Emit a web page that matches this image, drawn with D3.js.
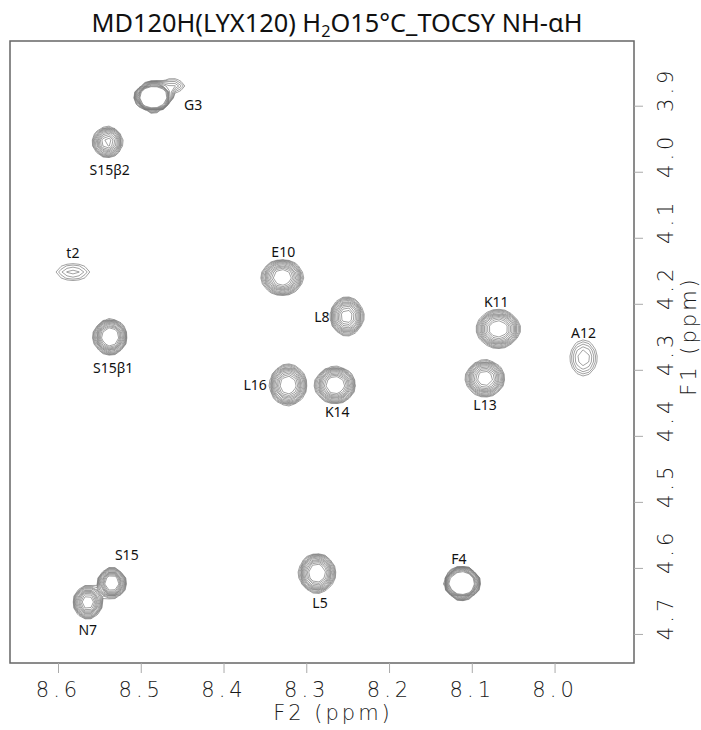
<!DOCTYPE html>
<html>
<head>
<meta charset="utf-8">
<script src="https://cdn.jsdelivr.net/npm/d3@7"></script>
<style>
  html, body { margin: 0; padding: 0; background: #fff; }
  svg { display: block; }
</style>
</head>
<body>
<svg id="chart" width="701" height="730"></svg>
<script>
// ---------------- DATA ----------------
const peakLabels  = ["G3", "", "S15β2", "t2", "E10", "L8", "K11", "A12", "S15β1", "L16", "K14", "L13", "S15", "N7", "L5", "F4"];
const peakF2      = [8.485, 8.462, 8.540, 8.582, 8.329, 8.251, 8.068, 7.965, 8.537, 8.322, 8.265, 8.084, 8.535, 8.564, 8.287, 8.112];
const peakF1      = [3.887, 3.870, 3.955, 4.152, 4.160, 4.219, 4.238, 4.282, 4.250, 4.323, 4.323, 4.313, 4.623, 4.652, 4.608, 4.623];
const peakHeight  = [20, 2.2, 9, 1.9, 12, 10, 12, 2.5, 15, 12, 13, 11, 15, 11, 13, 20];
const peakWidthF2 = [0.0115, 0.0120, 0.0085, 0.0180, 0.0112, 0.0093, 0.0117, 0.0120, 0.0086, 0.0099, 0.0107, 0.0106, 0.0072, 0.0079, 0.0096, 0.0108];
const peakWidthF1 = [0.0114, 0.0085, 0.0110, 0.0110, 0.0120, 0.0134, 0.0128, 0.0200, 0.0115, 0.0138, 0.0122, 0.0125, 0.0096, 0.0112, 0.0130, 0.0122];
const peakShape   = [2, 1, 1, 1, 1, 1, 1, 1, 1, 1, 1, 1, 1, 1, 1, 1.7];
const contourLevels = [1, 1.2, 1.44, 1.73, 2.07, 2.49, 2.99, 3.58, 4.3, 5.16, 6.19, 7.43];

const xTicks = [8.6, 8.5, 8.4, 8.3, 8.2, 8.1, 8.0];
const yTicks = [3.9, 4.0, 4.1, 4.2, 4.3, 4.4, 4.5, 4.6, 4.7];
const xDomain = [8.658, 7.904];
const yDomain = [3.802, 4.744];

// ---------------- LAYOUT (label offsets in px, relative to peak) ----------------
const labelDx = [40, 0, 2, 0, 1, -25, -2, 0, 3, -33, 2, 0, 15, 0, 3, -3];
const labelDy = [8, 0, 28, -19, -25, 1, -27, -25, 31, 0, 27, 27, -28, 28, 30, -24];

const M = { left: 10, top: 41, right: 634, bottom: 663 };

const svg = d3.select("#chart");

const x = d3.scaleLinear().domain(xDomain).range([M.left, M.right]);
const y = d3.scaleLinear().domain(yDomain).range([M.top, M.bottom]);

// ---------------- TITLE ----------------
const title = svg.append("text")
  .attr("x", 337).attr("y", 32)
  .attr("text-anchor", "middle")
  .attr("font-family", "Noto Sans, DejaVu Sans, sans-serif")
  .attr("font-size", 25)
  .attr("fill", "#111")
  .attr("textLength", 491)
  .attr("lengthAdjust", "spacingAndGlyphs");
title.append("tspan").text("MD120H(LYX120) H");
title.append("tspan").attr("font-size", 16).attr("dy", 5).text("2");
title.append("tspan").attr("dy", -5).text("O15°C_TOCSY NH-αH");

// ---------------- CONTOURS ----------------
const step = 6;
const nx = Math.ceil((M.right - M.left) / step);
const ny = Math.ceil((M.bottom - M.top) / step);
const gx = d3.scaleLinear().domain([0, nx]).range([M.left, M.left + nx * step]);
const gy = d3.scaleLinear().domain([0, ny]).range([M.top, M.top + ny * step]);

const values = new Float64Array(nx * ny);
for (let j = 0; j < ny; j++) {
  const f1 = y.invert(gy(j + 0.5));
  for (let i = 0; i < nx; i++) {
    const f2 = x.invert(gx(i + 0.5));
    let v = 0;
    for (let k = 0; k < peakF2.length; k++) {
      const dx = (f2 - peakF2[k]) / peakWidthF2[k];
      const dy = (f1 - peakF1[k]) / peakWidthF1[k];
      const q = (dx * dx + dy * dy) / 2;
      v += peakHeight[k] * Math.exp(-Math.pow(q, peakShape[k]));
    }
    values[i + j * nx] = v;
  }
}

const contours = d3.contours().size([nx, ny]).thresholds(contourLevels)(values);
const proj = d3.geoTransform({
  point: function (px, py) { this.stream.point(gx(px), gy(py)); }
});
const path = d3.geoPath(proj);

svg.append("defs").append("clipPath").attr("id", "clip")
  .append("rect").attr("x", M.left).attr("y", M.top)
  .attr("width", M.right - M.left).attr("height", M.bottom - M.top);

svg.append("g").attr("clip-path", "url(#clip)")
  .selectAll("path").data(contours).join("path")
  .attr("d", path)
  .attr("fill", "none")
  .attr("stroke", "#7a7a7a")
  .attr("stroke-width", 0.7)
  .attr("stroke-linejoin", "round");

// ---------------- PEAK LABELS ----------------
svg.append("g").selectAll("text")
  .data(peakLabels.map((t, i) => ({ t, i })).filter(d => d.t))
  .join("text")
  .attr("x", d => x(peakF2[d.i]) + labelDx[d.i])
  .attr("y", d => y(peakF1[d.i]) + labelDy[d.i])
  .attr("dy", "0.35em")
  .attr("text-anchor", "middle")
  .attr("font-family", "Noto Sans, sans-serif")
  .attr("font-size", 14)
  .attr("fill", "#111")
  .text(d => d.t);

// ---------------- FRAME ----------------
svg.append("rect")
  .attr("x", M.left).attr("y", M.top)
  .attr("width", M.right - M.left).attr("height", M.bottom - M.top)
  .attr("fill", "none").attr("stroke", "#666").attr("stroke-width", 1.5);

// ---------------- AXES ----------------
const tickFont = "DejaVu Sans, sans-serif";
const tickFill = "#1a1a1a";
const xAxis = svg.append("g")
  .attr("transform", `translate(0,${M.bottom})`)
  .call(d3.axisBottom(x).tickValues(xTicks).tickSize(10).tickPadding(9).tickFormat(d3.format(".1f")));
xAxis.select(".domain").remove();
xAxis.selectAll(".tick line").attr("stroke", "#aaa").attr("stroke-width", 1);
xAxis.selectAll(".tick text")
  .attr("font-family", tickFont).attr("font-size", 21).attr("font-weight", 200)
  .attr("letter-spacing", 4).attr("fill", tickFill);

const yAxis = svg.append("g")
  .attr("transform", `translate(${M.right},0)`)
  .call(d3.axisRight(y).tickValues(yTicks).tickSize(9).tickFormat(d3.format(".1f")));
yAxis.select(".domain").remove();
yAxis.selectAll(".tick line").attr("stroke", "#aaa").attr("stroke-width", 1);
yAxis.selectAll(".tick text")
  .attr("x", null).attr("dy", null)
  .attr("transform", "translate(32,-17) rotate(-90)")
  .attr("text-anchor", "middle")
  .attr("dominant-baseline", "central")
  .attr("font-family", tickFont).attr("font-size", 21).attr("font-weight", 200)
  .attr("letter-spacing", 4).attr("fill", tickFill);

// axis titles
svg.append("text")
  .attr("x", 333).attr("y", 720)
  .attr("text-anchor", "middle")
  .attr("font-family", tickFont).attr("font-size", 21).attr("font-weight", 200)
  .attr("letter-spacing", 3).attr("fill", tickFill)
  .text("F2 (ppm)");

svg.append("text")
  .attr("transform", "translate(689,336) rotate(-90)")
  .attr("text-anchor", "middle")
  .attr("dominant-baseline", "central")
  .attr("font-family", tickFont).attr("font-size", 21).attr("font-weight", 200)
  .attr("letter-spacing", 3).attr("fill", tickFill)
  .text("F1 (ppm)");
</script>
</body>
</html>
